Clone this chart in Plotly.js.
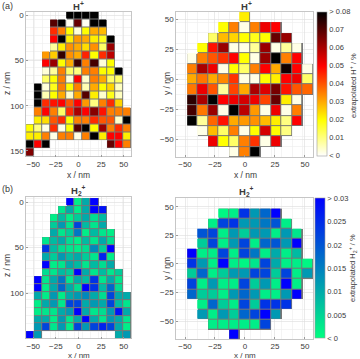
<!DOCTYPE html>
<html>
<head>
<meta charset="utf-8">
<script src="https://cdn.plot.ly/plotly-3.0.1.min.js"></script>
<style>html,body{margin:0;padding:0;background:#fff}#chart{width:360px;height:359px}</style>
</head>
<body>
<div id="chart"></div>
<script>
// ---- cell centres (nm) ----
const xLeft = [-53.4, -44.5, -35.6, -26.7, -17.8, -8.9, 0, 8.9, 17.8, 26.7, 35.6, 44.5, 53.4];
const zTop = [0, 8.9, 17.8, 26.7, 35.6, 44.5, 53.4, 62.3, 71.2, 80.1, 89, 97.9, 106.8, 115.7, 124.6, 133.5, 142.4, 151.3];
const zBottom = [0, 8.6, 17.2, 25.8, 34.4, 43, 51.6, 60.2, 68.8, 77.4, 86, 94.6, 103.2, 111.8, 120.4, 129, 137.6, 146.2];
const xRight = [-43.75, -35, -26.25, -17.5, -8.75, 0, 8.75, 17.5, 26.25, 35, 43.75, 52.5];
const yTopRight = [51.6, 43, 34.4, 25.8, 17.2, 8.6, 0, -8.6, -17.2, -25.8, -34.4, -43, -51.6, -60.2];
const yBottomRight = [44, 35.2, 26.4, 17.6, 8.8, 0, -8.8, -17.6, -26.4, -35.2, -44, -52.8, -61.6];

// ---- extrapolated H+ (%), x-z section ----
const hPlusXZ = [
 [null,null,null,null,null,.085,.085,.085,.085,null,null,null,null],
 [null,null,null,.070,.085,.001,.068,.001,.085,.085,null,null,null],
 [null,null,null,.045,.035,.020,.003,.020,.030,.028,null,null,null],
 [null,null,null,.050,.085,.022,.032,.030,.022,.018,.085,null,null],
 [null,null,null,.008,.022,.033,.030,.024,.033,.012,.062,null,null],
 [null,null,.032,.026,.074,.033,.030,.046,.020,.045,.058,null,null],
 [null,null,.050,.062,.020,.030,.073,.035,.072,.003,.020,null,null],
 [null,null,.003,.008,.035,.012,.010,.035,.035,.020,.020,.085,null],
 [null,null,.012,.020,.035,.003,.050,.004,.035,.030,.012,.012,null],
 [null,.085,.003,.018,.035,.020,.035,.006,.030,.020,.025,.005,null],
 [null,.085,.006,.020,.030,.004,.030,.070,.022,.004,.018,.005,null],
 [null,.085,.045,.048,.050,.040,.050,.032,.010,.035,.045,.025,null],
 [null,.035,.050,.035,.012,.045,.060,.050,.064,.048,.035,.035,.035],
 [null,.022,.024,.040,.045,.020,.035,.035,.045,.040,.040,.004,.085],
 [.020,.010,.002,.045,.002,.020,.070,.085,.020,.062,.035,.045,.035],
 [.022,.022,.035,.002,.035,.035,.002,.035,.085,.022,.050,.050,.022],
 [.085,.050,.085,null,null,null,null,null,null,null,.068,.050,.035],
 [.065,null,null,null,null,null,null,null,null,null,null,null,null]
];

// ---- extrapolated H+ (%), x-y section ----
const hPlusXY = [
 [null,null,null,null,null,.022,null,null,null,null,null,null],
 [null,null,null,.020,.035,.002,.035,.052,.050,null,null,null],
 [null,null,.012,.028,.025,.020,.018,.020,.068,.062,null,null],
 [null,.020,.048,.062,.002,.002,.008,.062,.002,.008,.002,null],
 [.002,.035,.040,.044,.050,.020,.002,.062,.082,.035,.050,null],
 [.035,.060,.052,.002,.020,.012,.035,.050,.030,.078,.050,.002],
 [.030,.036,.030,.034,.044,.002,.002,.020,.022,.050,.052,.012],
 [.036,.052,.040,.008,.042,.030,.060,.054,.066,.048,.040,.038],
 [.075,.060,.082,.050,.052,.055,.052,.042,.068,.022,.002,null],
 [.072,.036,.062,.002,.085,.058,.032,.002,.052,.002,.035,null],
 [.082,.008,.038,.048,.030,.032,.033,.028,.022,.010,.050,null],
 [null,.002,.028,.012,.035,.002,.020,.055,.020,.010,null,null],
 [null,null,.052,.020,.012,.035,.044,.002,.052,null,null,null],
 [null,null,null,null,.002,.035,.085,null,null,null,null,null]
];

// ---- extrapolated H2+ (%), x-z section ----
const h2PlusXZ = [
 [null,null,null,null,null,.030,.002,.010,.030,null,null,null,null],
 [null,null,null,null,.003,.010,.002,.010,.030,.028,null,null,null],
 [null,null,null,.002,.008,.002,.006,.010,.004,.008,null,null,null],
 [null,null,null,.006,.012,.003,.022,.008,.003,.010,null,null,null],
 [null,null,null,.010,.003,.006,.016,.002,.008,.003,.002,null,null],
 [null,null,.003,.008,.010,.004,.002,.008,.003,.010,.004,null,null],
 [null,null,.024,.008,.004,.003,.002,.004,.014,.006,.030,null,null],
 [null,null,.010,.006,.012,.008,.010,.006,.003,.026,.002,null,null],
 [null,null,.030,.002,.003,.010,.008,.003,.008,.004,.010,null,null],
 [null,null,.004,.003,.008,.006,.030,.010,.003,.008,.003,.006,null],
 [null,.030,.003,.010,.016,.003,.010,.008,.024,.003,.010,.003,null],
 [null,.030,.002,.010,.018,.010,.004,.030,.024,.008,.018,.004,null],
 [null,.010,.002,.012,.002,.010,.012,.014,.010,.004,.022,.010,.010],
 [null,.002,.010,.012,.003,.022,.022,.010,.012,.010,.022,.008,.003],
 [null,.002,.003,.003,.010,.012,.030,.010,.003,.004,.012,.028,.010],
 [null,.010,.010,.002,.012,.003,.010,.030,.010,.003,.012,.010,.003],
 [null,.012,.022,.003,.012,.002,.022,.012,.022,.026,.022,.010,.002],
 [.030,.012,null,null,null,null,null,null,null,null,null,.010,.012]
];

// ---- extrapolated H2+ (%), x-y section ----
const h2PlusXY = [
 [null,null,null,.001,.002,.024,.012,.018,.030,null,null,null],
 [null,null,.002,.022,.024,.012,.012,.016,.020,.002,null,null],
 [null,.020,.022,.002,.012,.006,.012,.012,.002,.012,.003,null],
 [null,.006,.022,.002,.012,.022,.002,.018,.020,.012,.030,null],
 [.030,.002,.002,.022,.002,.022,.016,.002,.010,.002,.008,null],
 [.024,.012,.002,.030,.002,.001,.003,.022,.010,.002,.002,.001],
 [.006,.018,.002,.006,.012,.012,.022,.022,.006,.022,.002,.012],
 [.022,.002,.012,.002,.002,.022,.006,.012,.002,.030,.002,null],
 [.018,.006,.006,.002,.012,.018,.012,.002,.002,.012,.030,null],
 [null,.002,.018,.006,.002,.022,.006,.024,.024,.024,null,null],
 [null,.012,.002,.012,.006,.018,.022,.030,.012,null,null,null],
 [null,null,.002,.002,.002,.002,.002,.022,null,null,null,null],
 [null,null,null,null,.030,null,null,null,null,null,null,null]
];

// ---- colour bar ticks ----
const hPlusTicks = [0, 0.01, 0.02, 0.03, 0.04, 0.05, 0.06, 0.07, 0.08];
const hPlusTickText = ['< 0', '0.01', '0.02', '0.03', '0.04', '0.05', '0.06', '0.07', '> 0.08'];
const h2PlusTicks = [0, 0.005, 0.01, 0.015, 0.02, 0.025, 0.03];
const h2PlusTickText = ['< 0', '0.005', '0.01', '0.015', '0.02', '0.025', '> 0.03'];

// ---- axis ticks ----
const xTicks = [-50, -25, 0, 25, 50];
const zTicksTop = [0, 50, 100, 150];
const zTicksBottom = [0, 50, 100];
const yTicks = [-50, -25, 0, 25, 50];

// ================= drawing =================
const W = 360, H = 359;
const FONT = 'Liberation Sans, Arial, Helvetica, sans-serif';
const TXT = '#3a3a3a';
const hotRev = [[0, '#ffffff'], [0.25, '#ffff00'], [0.625, '#ff0000'], [1, '#000000']];
const winterRev = [[0, 'rgb(0,255,128)'], [1, 'rgb(0,0,255)']];
const EDGE = '#767676';

function edges(c) {
  const e = [];
  for (let i = 0; i < c.length - 1; i++) e.push((c[i] + c[i + 1]) / 2);
  e.unshift(c[0] - (c[1] - c[0]) / 2);
  e.push(c[c.length - 1] + (c[c.length - 1] - c[c.length - 2]) / 2);
  return e;
}
function mask(z) { return z.map(r => r.map(v => v === null ? null : 1)); }
const px = v => v / W;
const py = v => 1 - v / H;

const traces = [];
function panel(xc, yc, z, xa, ya, cs, zmax, cb) {
  traces.push({type: 'heatmap', x: xc, y: yc, z: mask(z), xaxis: xa, yaxis: ya,
    colorscale: [[0, EDGE], [1, EDGE]], zmin: 0, zmax: 1, showscale: false, hoverinfo: 'skip'});
  const t = {type: 'heatmap', x: xc, y: yc, z: z, xaxis: xa, yaxis: ya,
    colorscale: cs, zmin: 0, zmax: zmax, zauto: false, xgap: 1, ygap: 1,
    showscale: !!cb, hoverinfo: 'skip'};
  if (cb) t.colorbar = cb;
  traces.push(t);
}

function cbar(x, top, bottom, thick, vals, text) {
  return {x: px(x), xref: 'paper', xanchor: 'left', xpad: 0,
    y: py((top + bottom) / 2), yref: 'paper', yanchor: 'middle', ypad: 0,
    len: (bottom - top) / H, lenmode: 'fraction', thickness: thick,
    outlinecolor: '#9a9a9a', outlinewidth: 0.6,
    tickmode: 'array', tickvals: vals, ticktext: text, ticks: '',
    tickfont: {size: 7.5, color: TXT, family: FONT}, title: {text: ''}};
}

panel(xLeft, zTop, hPlusXZ, 'x', 'y', hotRev, 0.08, null);
panel(xRight, yTopRight, hPlusXY, 'x2', 'y2', hotRev, 0.08,
  cbar(316.5, 11.7, 156, 10, hPlusTicks, hPlusTickText));
panel(xLeft, zBottom, h2PlusXZ, 'x3', 'y3', winterRev, 0.03, null);
panel(xRight, yBottomRight, h2PlusXY, 'x4', 'y4', winterRev, 0.03,
  cbar(315, 198.3, 338.3, 9.5, h2PlusTicks, h2PlusTickText));

function axis(dom, range, ticks, cellCentres, anchor, isY) {
  return {
    domain: isY ? [py(dom[1]), py(dom[0])] : [px(dom[0]), px(dom[1])],
    range: range, anchor: anchor,
    tickmode: 'array', tickvals: ticks, ticks: 'inside', ticklen: 2, tickcolor: '#9a9a9a',
    tickfont: {size: 8, color: TXT, family: FONT},
    showgrid: true, gridcolor: '#dcdcdc', gridwidth: 0.6, zeroline: false,
    minor: {tickmode: 'array', tickvals: edges(cellCentres), showgrid: true,
            gridcolor: '#ececec', gridwidth: 0.6, ticks: ''},
    showline: true, mirror: true, linecolor: '#b8b8b8', linewidth: 0.8,
    fixedrange: true, automargin: false
  };
}

const layout = {
  width: W, height: H, margin: {l: 0, r: 0, t: 0, b: 0},
  paper_bgcolor: '#ffffff', plot_bgcolor: '#ffffff', showlegend: false,
  font: {family: FONT, color: TXT},
  xaxis:  axis([26, 131], [-58, 58], xTicks, xLeft, 'y', false),
  yaxis:  axis([11.5, 156.5], [156.1, -4.4], zTicksTop, zTop, 'x', true),
  xaxis2: axis([176, 313], [-57.5, 56.7], xTicks, xRight, 'y2', false),
  yaxis2: axis([11.5, 157], [-64.5, 56.4], yTicks, yTopRight, 'x2', true),
  xaxis3: axis([26, 131], [-58, 58], xTicks, xLeft, 'y3', false),
  yaxis3: axis([197, 338.5], [149.8, -5.5], zTicksBottom, zBottom, 'x3', true),
  xaxis4: axis([176, 313], [-57.5, 56.7], xTicks, xRight, 'y4', false),
  yaxis4: axis([198, 339], [-65.6, 57.7], yTicks, yBottomRight, 'x4', true),
  annotations: []
};

function note(text, x, y, size, opts) {
  layout.annotations.push(Object.assign({text: text, x: px(x), y: py(y), xref: 'paper', yref: 'paper',
    showarrow: false, xanchor: 'center', yanchor: 'middle',
    font: {size: size, color: TXT, family: FONT}}, opts || {}));
}
note('(a)', 0, 6, 9, {xanchor: 'left'});
note('(b)', 0, 189, 9, {xanchor: 'left'});
note('<b>H<sup>+</sup></b>', 78, 6, 9.5);
note('<b>H<sup>+</sup></b>', 246, 6, 9.5);
note('<b>H<sub>2</sub><sup>+</sup></b>', 78, 190, 9.5);
note('<b>H<sub>2</sub><sup>+</sup></b>', 246, 191, 9.5);
note('x / nm', 78.5, 174.5, 8.5);
note('x / nm', 245, 174.5, 8.5);
note('x / nm', 78.5, 355.5, 8, {yanchor: 'middle'});
note('x / nm', 245, 355.5, 8, {yanchor: 'middle'});
note('z / nm', 7, 84, 8.5, {textangle: -90});
note('z / nm', 7, 266, 8.5, {textangle: -90});
note('y / nm', 167, 84, 8.5, {textangle: -90});
note('y / nm', 167, 269, 8.5, {textangle: -90});
note('extrapolated H<sup>+</sup> / %', 353, 86, 7.5, {textangle: -90});
note('extrapolated H<sub>2</sub><sup>+</sup> / %', 352, 268, 7.5, {textangle: -90});

Plotly.newPlot('chart', traces, layout, {staticPlot: true, displayModeBar: false});
</script>
</body>
</html>
